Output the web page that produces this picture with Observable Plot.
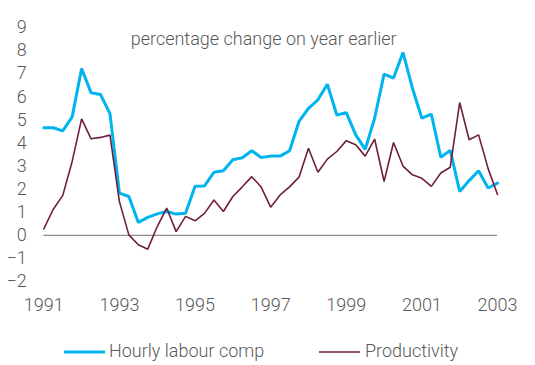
<!DOCTYPE html>
<html>
<head>
<meta charset="utf-8">
<script src="https://cdn.jsdelivr.net/npm/d3@7"></script>
<script src="https://cdn.jsdelivr.net/npm/@observablehq/plot@0.6"></script>
<style>
  html, body { margin: 0; padding: 0; background: #fff; }
  body { width: 535px; height: 365px; overflow: hidden; font-family: Roboto, sans-serif; }
  #legend { position: relative; height: 20px; margin-top: 19px; font-size: 18px; font-weight: 300; line-height: 20px; color: #595959; }
  .item { position: absolute; top: 0; display: flex; align-items: flex-start; white-space: nowrap; }
  .item svg { display: block; }
</style>
</head>
<body>
<div id="chart"></div>
<div id="legend"></div>
<script>
// ---- data (quarterly, 1991 Q1 .. 2003 Q1) ----
const startYear = 1991;
const seriesNames = ["Hourly labour comp", "Productivity"];
const hourlyLabourComp = [
  4.66, 4.66, 4.52, 5.13, 7.22, 6.17, 6.10, 5.27,
  1.83, 1.68, 0.56, 0.78, 0.93, 1.03, 0.92, 0.96,
  2.13, 2.14, 2.73, 2.80, 3.27, 3.36, 3.66, 3.37,
  3.43, 3.43, 3.66, 4.93, 5.50, 5.87, 6.54, 5.21,
  5.31, 4.35, 3.72, 5.07, 6.98, 6.81, 7.92, 6.37,
  5.07, 5.25, 3.38, 3.68, 1.90, 2.37, 2.80, 2.05,
  2.26
];
const productivity = [
  0.28, 1.13, 1.72, 3.20, 5.04, 4.18, 4.24, 4.34,
  1.46, 0.02, -0.41, -0.60, 0.38, 1.18, 0.16, 0.82,
  0.63, 0.95, 1.53, 1.03, 1.68, 2.10, 2.54, 2.09,
  1.22, 1.75, 2.10, 2.52, 3.77, 2.73, 3.30, 3.63,
  4.10, 3.92, 3.43, 4.17, 2.33, 4.02, 3.00, 2.62,
  2.47, 2.12, 2.70, 2.95, 5.75, 4.14, 4.35, 2.90,
  1.77
];
const xTicks = [1991, 1993, 1995, 1997, 1999, 2001, 2003];
const yTicks = [-2, -1, 0, 1, 2, 3, 4, 5, 6, 7, 8, 9];
const titleText = "percentage change on year earlier";
const colors = ["#00B4F0", "#6E1F3D"];

// ---- build tables ----
const toRows = (vals, name) => vals.map((v, i) => ({ t: startYear + i / 4, v, s: name }));
const hourRows = toRows(hourlyLabourComp, seriesNames[0]);
const prodRows = toRows(productivity, seriesNames[1]);

const chart = Plot.plot({
  width: 535,
  height: 322,
  marginLeft: 43.3,
  marginRight: 38,
  marginTop: 27,
  marginBottom: 41,
  style: { fontFamily: "Roboto, sans-serif", fontSize: "18px", fontWeight: 300, color: "#595959", background: "white", overflow: "visible" },
  x: { domain: [1991, 2003], ticks: xTicks, tickFormat: "d", tickSize: 0, tickPadding: 17, label: null },
  y: { domain: [-2, 9], ticks: yTicks, tickSize: 0, tickPadding: 17, label: null },
  marks: [
    Plot.ruleY([0], { stroke: "#8c8c8c", strokeWidth: 1.3 }),
    Plot.lineY(hourRows, { x: "t", y: "v", stroke: colors[0], strokeWidth: 3, strokeLinejoin: "miter" }),
    Plot.lineY(prodRows, { x: "t", y: "v", stroke: colors[1], strokeWidth: 1.6, strokeLinejoin: "miter" }),
    Plot.text([titleText], { text: d => d, frameAnchor: "top", dx: -7, dy: 5, fill: "#595959", fontSize: 18, fontWeight: 300 })
  ]
});
document.getElementById("chart").appendChild(chart);

// ---- legend ----
const legend = document.getElementById("legend");
const legendX = [64, 319];
seriesNames.forEach((name, i) => {
  const item = document.createElement("div");
  item.className = "item";
  item.style.left = legendX[i] + "px";
  item.innerHTML = `<svg width="41" height="20"><line x1="0" x2="41" y1="11" y2="11" stroke="${colors[i]}" stroke-width="${i === 0 ? 3 : 1.6}"/></svg><span style="margin-left:${i === 0 ? 4 : 5}px">${name}</span>`;
  legend.appendChild(item);
});
</script>
</body>
</html>
